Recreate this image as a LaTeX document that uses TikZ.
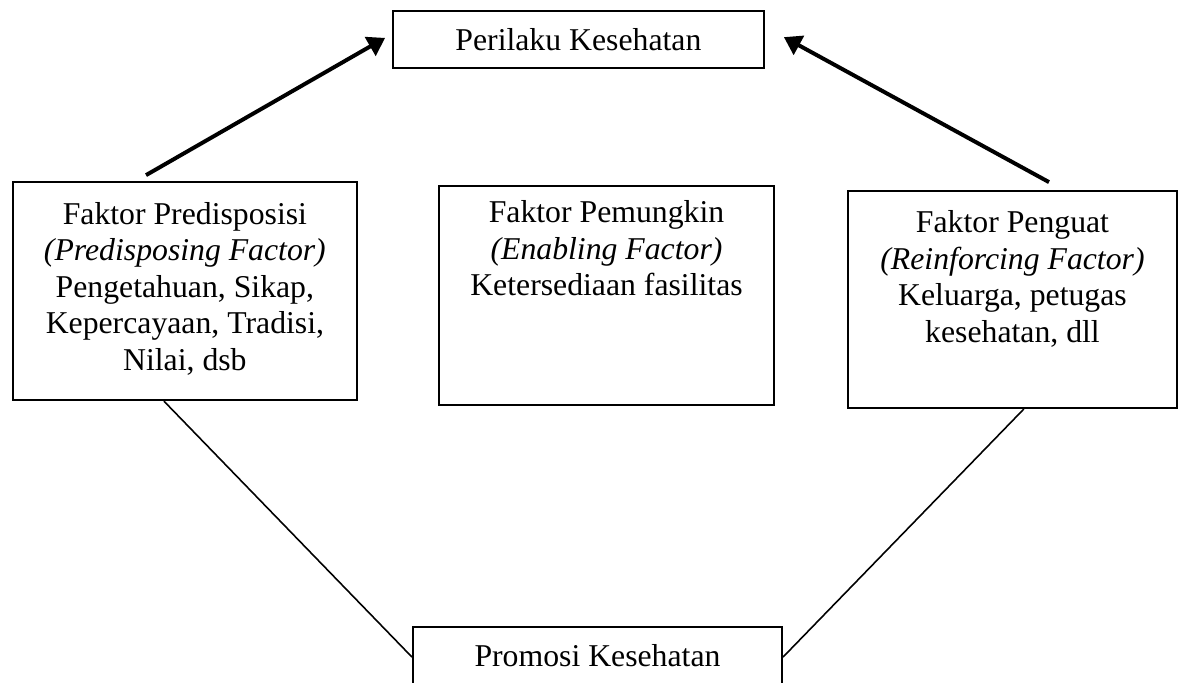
\documentclass[tikz,border=0pt]{standalone}
\usepackage{fontspec}
\setmainfont{Liberation Serif}
\usetikzlibrary{positioning,arrows.meta}

\begin{document}
\begin{tikzpicture}[
        x=0.378pt, y=-0.378pt,
        every node/.style={font=\fontsize{12}{13.8}\selectfont},
        box/.style={draw, line width=0.75pt, rectangle, inner sep=0pt},
        txt/.style={align=center, inner sep=0pt},
        arr/.style={line width=1.5pt, -{Triangle[length=6.5pt,width=8pt]}},
        conn/.style={line width=0.6pt}
        ]
    \useasboundingbox (0,0) rectangle (1184,682);

    \node[box, minimum width=140.2pt, minimum height=21.5pt] (perilaku) at (578.4,39.5) {Perilaku Kesehatan};

    \node[box, minimum width=130pt, minimum height=82.4pt] (pred) at (184.9,291.2) {};
    \node[txt, below=7.7pt of pred.north] (predtxt) {Faktor Predisposisi\\ \textit{(Predisposing Factor)}\\ Pengetahuan, Sikap,\\ Kepercayaan, Tradisi,\\ Nilai, dsb};

    \node[box, minimum width=126.6pt, minimum height=82.8pt] (pemungkin) at (606.5,295.5) {};
    \node[txt, below=5.8pt of pemungkin.north] (pemungkintxt) {Faktor Pemungkin\\ \textit{(Enabling Factor)}\\ Ketersediaan fasilitas};

    \node[box, minimum width=124.4pt, minimum height=82pt] (penguat) at (1012.5,299.5) {};
    \node[txt, below=7.7pt of penguat.north] (penguattxt) {Faktor Penguat\\ \textit{(Reinforcing Factor)}\\ Keluarga, petugas\\ kesehatan, dll};

    \node[box, minimum width=139.5pt, minimum height=21.5pt] (promo) at (597.5,655.5) {Promosi Kesehatan};

    \draw[arr] ([xshift=-14.7pt,yshift=2.3pt]pred.north) -- ([xshift=-2.6pt,yshift=0.6pt]perilaku.west);
    \draw[arr] ([xshift=13.8pt,yshift=3pt]penguat.north) -- ([xshift=7.2pt,yshift=0.9pt]perilaku.east);

    \draw[conn] ([xshift=-7.9pt]pred.south) -- ([yshift=-0.6pt]promo.west);
    \draw[conn] ([xshift=4.3pt]penguat.south) -- ([yshift=-0.6pt]promo.east);
\end{tikzpicture}
\end{document}
